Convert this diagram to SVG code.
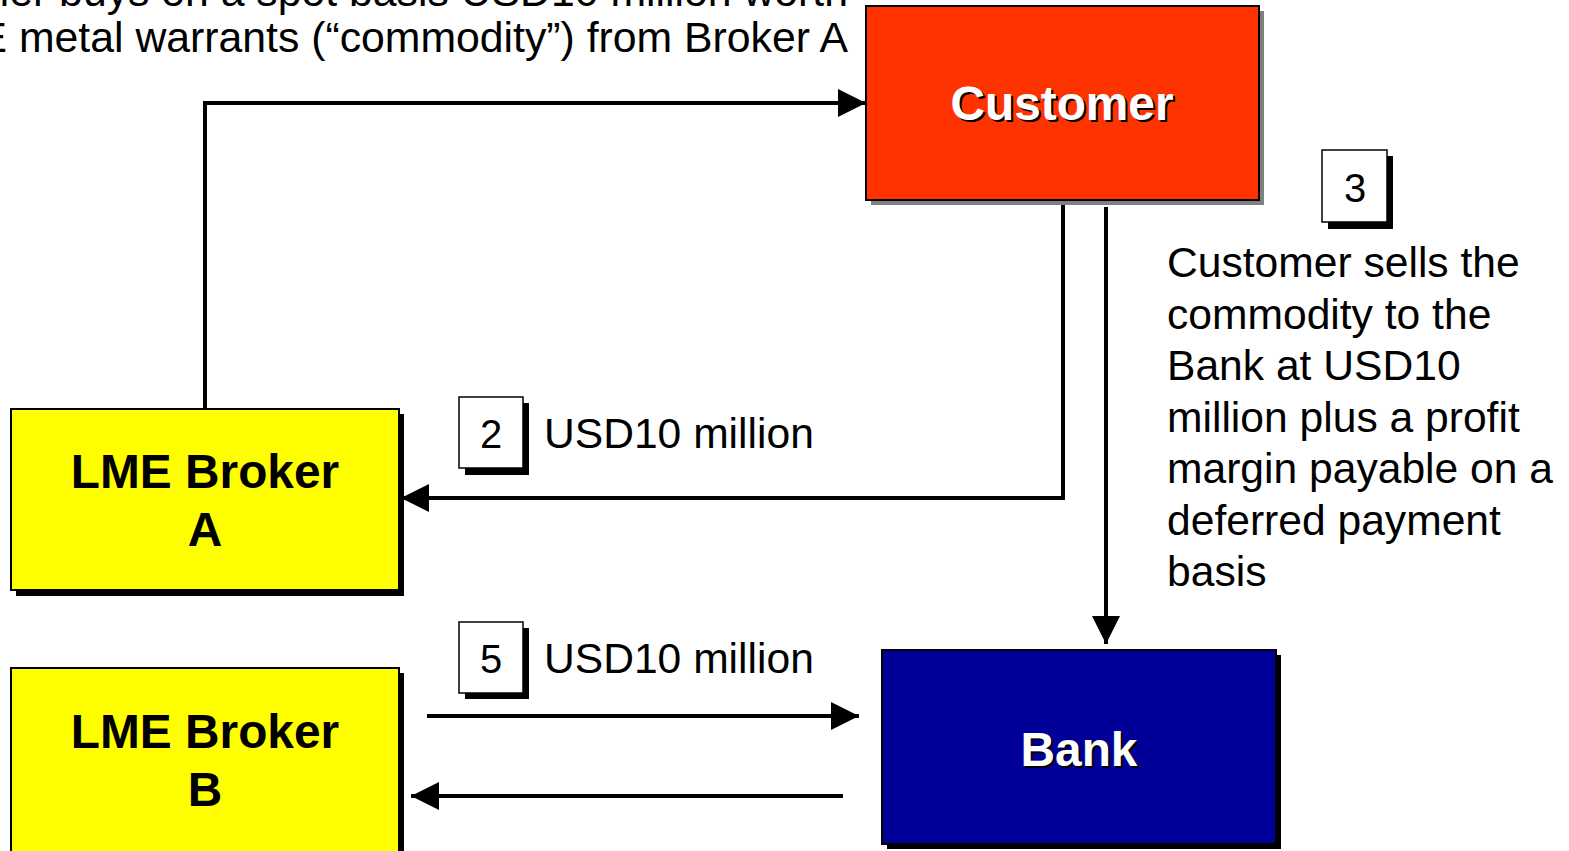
<svg xmlns="http://www.w3.org/2000/svg" width="1569" height="851" viewBox="0 0 1569 851">
  <style>
    .txt { font-family: "Liberation Sans", Arial, sans-serif; font-size: 42.6px; fill: #000; }
    .head { font-size: 42.75px; }
    .lbl { font-family: "Liberation Sans", Arial, sans-serif; font-size: 47.8px; font-weight: bold; text-anchor: middle; }
    .num { font-family: "Liberation Sans", Arial, sans-serif; font-size: 40px; text-anchor: middle; fill: #000; }
    .box { stroke: #000; stroke-width: 2; }
    .numbox { fill: #fff; stroke: #000; stroke-width: 1.5; }
    .conn { fill: none; stroke: #000; stroke-width: 4; }
  </style>
  <defs>
    <marker id="arrow" markerUnits="userSpaceOnUse" markerWidth="28" markerHeight="28" viewBox="0 0 26 26" refX="26" refY="13" orient="auto">
      <path d="M0,0 L26,13 L0,26 Z" fill="#000"/>
    </marker>
  </defs>
  <rect width="1569" height="851" fill="#fff"/>

  <!-- heading text, partly running off the canvas -->
  <g id="heading">
    <text class="txt head" x="848" y="6" text-anchor="end">Customer buys on a spot basis USD10 million worth</text>
    <text class="txt head" x="848" y="52" text-anchor="end">of LME metal warrants (“commodity”) from Broker A</text>
  </g>

  <!-- connectors -->
  <g id="connectors">
    <polyline class="conn" points="205,408 205,103 866,103" marker-end="url(#arrow)"/>
    <polyline class="conn" points="1063,200 1063,498 401,498" marker-end="url(#arrow)"/>
    <line class="conn" x1="1106" y1="207" x2="1106" y2="644" marker-end="url(#arrow)"/>
    <line class="conn" x1="427" y1="716" x2="859" y2="716" marker-end="url(#arrow)"/>
    <line class="conn" x1="843" y1="796" x2="411" y2="796" marker-end="url(#arrow)"/>
  </g>

  <g id="customer">
    <rect x="871" y="11" width="393" height="194" fill="#808080"/>
    <rect class="box" x="866" y="6" width="393" height="194" fill="#FF3300"/>
    <text class="lbl" x="1064" y="122" fill="#000">Customer</text>
    <text class="lbl" x="1062" y="120" fill="#fff">Customer</text>
  </g>

  <g id="broker-a">
    <rect x="16" y="414" width="388" height="182" fill="#000"/>
    <rect class="box" x="11" y="409" width="388" height="181" fill="#FFFF00"/>
    <text class="lbl" x="205" y="488" fill="#000">LME Broker</text>
    <text class="lbl" x="205" y="546" fill="#000">A</text>
  </g>

  <g id="broker-b">
    <rect x="16" y="673" width="388" height="182" fill="#000"/>
    <rect class="box" x="11" y="668" width="388" height="190" fill="#FFFF00"/>
    <text class="lbl" x="205" y="748" fill="#000">LME Broker</text>
    <text class="lbl" x="205" y="806" fill="#000">B</text>
  </g>

  <g id="bank">
    <rect x="887" y="655" width="394" height="194" fill="#000"/>
    <rect class="box" x="882" y="650" width="394" height="194" fill="#000099"/>
    <text class="lbl" x="1081" y="768" fill="#000">Bank</text>
    <text class="lbl" x="1079" y="766" fill="#fff">Bank</text>
  </g>

  <g id="step-2">
    <rect x="465" y="403" width="64" height="72" fill="#000"/>
    <rect class="numbox" x="459" y="397" width="64" height="71"/>
    <text class="num" x="491" y="448">2</text>
    <text class="txt" x="544" y="448">USD10 million</text>
  </g>

  <g id="step-3">
    <rect x="1328" y="156" width="65" height="73" fill="#000"/>
    <rect class="numbox" x="1322" y="150" width="65" height="72"/>
    <text class="num" x="1355" y="202">3</text>
    <text class="txt" x="1167" y="277">
      <tspan x="1167">Customer sells the</tspan>
      <tspan x="1167" dy="51.5">commodity to the</tspan>
      <tspan x="1167" dy="51.5">Bank at USD10</tspan>
      <tspan x="1167" dy="51.5">million plus a profit</tspan>
      <tspan x="1167" dy="51.5">margin payable on a</tspan>
      <tspan x="1167" dy="51.5">deferred payment</tspan>
      <tspan x="1167" dy="51.5">basis</tspan>
    </text>
  </g>

  <g id="step-5">
    <rect x="465" y="628" width="64" height="71" fill="#000"/>
    <rect class="numbox" x="459" y="622" width="64" height="71"/>
    <text class="num" x="491" y="673">5</text>
    <text class="txt" x="544" y="673">USD10 million</text>
  </g>
</svg>
